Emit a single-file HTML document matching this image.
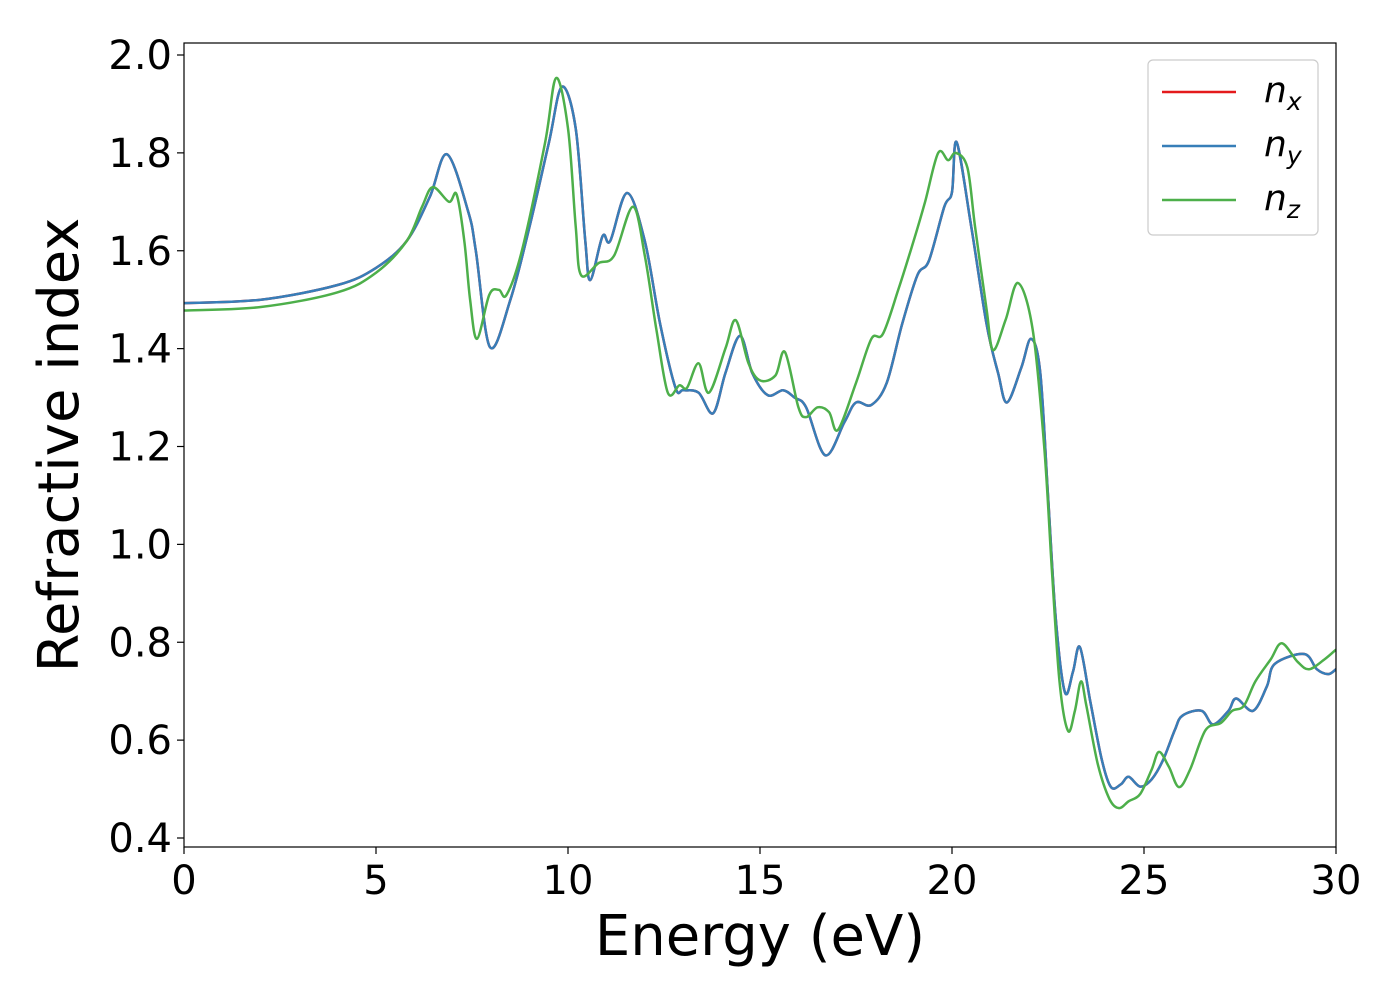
<!DOCTYPE html>
<html><head><meta charset="utf-8"><style>
body{margin:0;background:#fff;}
text{font-family:"DejaVu Sans","Liberation Sans",sans-serif;fill:#000;}
</style></head><body>
<svg id="chart" width="1400" height="1000" xmlns="http://www.w3.org/2000/svg">
<g id="plot"></g>
</svg>
<script>
const xTicks=[0,5,10,15,20,25,30];
const yTicks=[0.4,0.6,0.8,1.0,1.2,1.4,1.6,1.8,2.0];
const yTickLabels=["0.4","0.6","0.8","1.0","1.2","1.4","1.6","1.8","2.0"];
const energyXY=[0,2,4,5,5.8,6.4,6.85,7.4,7.6,7.97,8.5,9.0,9.5,9.84,10.2,10.45,10.58,10.9,11.1,11.54,12.0,12.4,12.8,13.0,13.4,13.78,14.1,14.48,14.8,15.2,15.6,15.9,16.2,16.7,17.2,17.5,17.9,18.3,18.7,19.1,19.4,19.8,20.0,20.12,20.5,20.9,21.2,21.43,21.8,22.06,22.3,22.5,22.7,22.94,23.15,23.33,23.6,23.9,24.14,24.4,24.6,24.9,25.2,25.5,25.8,26.0,26.5,26.8,27.2,27.4,27.84,28.2,28.41,29.17,29.5,29.8,30];
const nY=[1.493,1.500,1.530,1.565,1.62,1.71,1.797,1.68,1.60,1.403,1.50,1.65,1.82,1.935,1.85,1.62,1.54,1.63,1.62,1.718,1.62,1.45,1.32,1.315,1.31,1.268,1.35,1.426,1.35,1.305,1.315,1.30,1.28,1.182,1.25,1.29,1.285,1.33,1.45,1.55,1.58,1.69,1.72,1.822,1.65,1.45,1.35,1.29,1.36,1.42,1.35,1.10,0.85,0.698,0.74,0.79,0.68,0.56,0.504,0.51,0.525,0.505,0.52,0.56,0.62,0.65,0.66,0.632,0.66,0.685,0.66,0.71,0.756,0.776,0.745,0.735,0.745];
const nX=nY.slice();
const energyZ=[0,2,4,5,5.8,6.2,6.48,6.9,7.1,7.3,7.45,7.63,7.95,8.2,8.4,8.8,9.4,9.69,10.0,10.2,10.34,10.8,11.2,11.69,12.0,12.3,12.6,12.9,13.1,13.4,13.67,14.1,14.37,14.7,15.0,15.4,15.65,16.0,16.2,16.5,16.8,17.03,17.5,17.9,18.2,18.6,19.0,19.3,19.64,19.9,20.1,20.4,20.6,20.9,21.07,21.4,21.72,22.1,22.4,22.6,22.8,23.02,23.2,23.36,23.5,23.8,24.1,24.35,24.6,24.9,25.2,25.39,25.65,25.91,26.2,26.6,27.0,27.3,27.6,27.9,28.3,28.59,29.0,29.3,29.7,30];
const nZ=[1.478,1.485,1.515,1.555,1.62,1.69,1.73,1.70,1.715,1.62,1.50,1.42,1.51,1.52,1.51,1.60,1.82,1.953,1.85,1.65,1.55,1.575,1.59,1.69,1.59,1.44,1.31,1.325,1.32,1.37,1.31,1.40,1.458,1.37,1.335,1.345,1.393,1.28,1.26,1.28,1.27,1.234,1.33,1.42,1.43,1.52,1.62,1.70,1.80,1.785,1.80,1.77,1.65,1.48,1.397,1.46,1.534,1.44,1.20,0.95,0.72,0.619,0.66,0.72,0.67,0.55,0.48,0.461,0.475,0.49,0.54,0.576,0.545,0.504,0.54,0.62,0.635,0.66,0.67,0.72,0.765,0.798,0.76,0.745,0.765,0.785];

const L=184,R=1336,T=43,B=847;
const sx=v=>L+(v-0)/30*(R-L);
const sy=v=>55+(2.0-v)*(838-55)/1.6;
const NS="http://www.w3.org/2000/svg";
const svg=document.getElementById('chart');
function mk(tag,attrs,parent){const e=document.createElementNS(NS,tag);for(const k in attrs)e.setAttribute(k,attrs[k]);(parent||svg).appendChild(e);return e;}
function pathFor(xs,ys){
  const p=xs.map((x,i)=>[sx(x),sy(ys[i])]);
  let d="M"+p[0][0].toFixed(1)+","+p[0][1].toFixed(1);
  for(let i=0;i<p.length-1;i++){
    const p0=p[i-1]||p[i],p1=p[i],p2=p[i+1],p3=p[i+2]||p[i+1];
    const c1=[p1[0]+(p2[0]-p0[0])/6,p1[1]+(p2[1]-p0[1])/6];
    const c2=[p2[0]-(p3[0]-p1[0])/6,p2[1]-(p3[1]-p1[1])/6];
    d+=" C"+c1[0].toFixed(1)+","+c1[1].toFixed(1)+" "+c2[0].toFixed(1)+","+c2[1].toFixed(1)+" "+p2[0].toFixed(1)+","+p2[1].toFixed(1);
  }
  return d;
}
const plot=document.getElementById('plot');
mk('clipPath',{id:'clip'},svg).appendChild(Object.assign(document.createElementNS(NS,'rect'),{}));
const cr=document.querySelector('#clip rect');cr.setAttribute('x',L);cr.setAttribute('y',T);cr.setAttribute('width',R-L);cr.setAttribute('height',B-T);
plot.setAttribute('clip-path','url(#clip)');
let e;
e=mk('path',{d:pathFor(energyXY,nX),fill:'none',stroke:'#e41a1c','stroke-width':2.5},plot);


e=mk('path',{d:pathFor(energyXY,nY),fill:'none',stroke:'#377eb8','stroke-width':2.5},plot);


e=mk('path',{d:pathFor(energyZ,nZ),fill:'none',stroke:'#4daf4a','stroke-width':2.5},plot);



e=mk('rect',{x:L,y:T,width:R-L,height:B-T,fill:'none',stroke:'#000','stroke-width':1.2});


xTicks.forEach(v=>{
  const x=sx(v);
  mk('line',{x1:x,x2:x,y1:B,y2:B+7,stroke:'#000','stroke-width':1.2});
  e=mk('text',{x:x,y:B+47,'text-anchor':'middle','font-size':40});
  e.textContent=String(v);
  
  
});
yTicks.forEach((v,i)=>{
  const y=sy(v);
  mk('line',{x1:L-7,x2:L,y1:y,y2:y,stroke:'#000','stroke-width':1.2});
  e=mk('text',{x:L-12,y:y+14,'text-anchor':'end','font-size':40});
  e.textContent=yTickLabels[i];
  
  
});
e=mk('text',{x:760,y:955,'text-anchor':'middle','font-size':56});
e.textContent='Energy (eV)';


e=mk('text',{x:0,y:0,'text-anchor':'middle','font-size':56,transform:'translate(78,445) rotate(-90)'});
e.textContent='Refractive index';



const leg=mk('g',{});


mk('rect',{x:1148,y:60,width:170,height:175,rx:5,fill:'#fff','fill-opacity':0.8,stroke:'#ccc','stroke-width':1.2},leg);
const legNames=['x','y','z'],legColors=['#e41a1c','#377eb8','#4daf4a'];
legNames.forEach((s,i)=>{
  const y=92+i*54;
  const g=mk('g',{},leg);
  
  
  mk('line',{x1:1162,x2:1236,y1:y,y2:y,stroke:legColors[i],'stroke-width':2.5},g);
  const t=mk('text',{x:1264,y:y+10,'font-size':36,'font-style':'italic'},g);
  t.textContent='n';
  const ts=mk('tspan',{'font-size':25,dy:8},t);
  ts.textContent=s;
});
</script>
</body></html>
